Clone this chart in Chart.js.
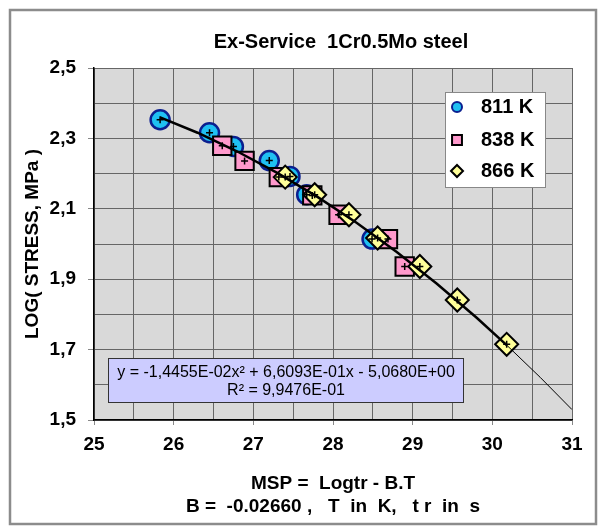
<!DOCTYPE html>
<html>
<head>
<meta charset="utf-8">
<script src="https://cdn.jsdelivr.net/npm/chart.js@4.4.1/dist/chart.umd.min.js"></script>
<style>
html, body { margin: 0; padding: 0; background: #fff; }
#wrap { width: 601px; height: 527px; }
</style>
</head>
<body>
<div id="wrap"><canvas id="creep-cvs" width="601" height="527"></canvas></div>
<script>
// creep data, MSP vs log(stress) for each test temperature
var msp811 = [25.83, 26.45, 26.75, 27.20, 27.46, 27.67, 28.49];
var log811 = [2.353, 2.316, 2.277, 2.237, 2.192, 2.140, 2.014];
var msp838 = [26.61, 26.89, 27.32, 27.74, 28.07, 28.69, 28.90];
var log838 = [2.279, 2.236, 2.190, 2.138, 2.083, 2.014, 1.936];
var msp866 = [27.40, 27.77, 28.20, 28.56, 29.09, 29.56, 30.18];
var log866 = [2.190, 2.140, 2.083, 2.017, 1.936, 1.841, 1.715];

var seriesNames = ["811 K", "838 K", "866 K"];
var xTickLabels = ["25", "26", "27", "28", "29", "30", "31"];
var yTickLabels = ["1,5", "1,7", "1,9", "2,1", "2,3", "2,5"];

// polynomial trendline, coefficients as printed in the equation box
var trendCoef = [-1.4455e-2, 6.6093e-1, -5.0680];
var trendSpanX = [25.83, 26.3, 26.8, 27.3, 27.8, 28.3, 28.8, 29.3, 29.8, 30.18];
var trendTailX = [30.18, 30.6, 31];
var trendText = ["y = -1,4455E-02x\u00B2 + 6,6093E-01x - 5,0680E+00", "R\u00B2 = 9,9476E-01"];

var chartTitle = "Ex-Service  1Cr0.5Mo steel";
var xTitle = ["MSP =  Logtr - B.T", "B =  -0.02660 ,   T  in  K,   t r  in  s"];
var yTitle = "LOG( STRESS, MPa )";

function pts(xs, ys) {
	let out = [];
	for (let i in xs) out.push({x: xs[i], y: ys[i]});
	return out;
}
function trendPts(xs) {
	return xs.map(x => ({x: x, y: trendCoef[0]*x*x + trendCoef[1]*x + trendCoef[2]}));
}

var styles = [
	{pointStyle: "circle", radius: 9.5, bg: "#1FC0F2", border: "#0B1F8F", bw: 2.5, lr: 5},
	{pointStyle: "rect", radius: 13, bg: "#FF99CC", border: "#000000", bw: 2, lr: 7},
	{pointStyle: "rectRot", radius: 11.5, bg: "#FFFF99", border: "#000000", bw: 2, lr: 6}
];

var frame = {
	id: "frame",
	beforeDraw(chart) {
		const ctx = chart.ctx, a = chart.chartArea;
		ctx.save();
		ctx.fillStyle = "#fff";
		ctx.fillRect(0, 0, chart.width, chart.height);
		ctx.strokeStyle = "#8c8c8c";
		ctx.lineWidth = 2.5;
		ctx.strokeRect(10, 10, 586, 514);
		ctx.fillStyle = "#d9d9d9";
		ctx.fillRect(a.left, a.top, a.right - a.left, a.bottom - a.top);
		ctx.fillStyle = "#000";
		ctx.font = "bold 20px Arial";
		ctx.textAlign = "center";
		ctx.textBaseline = "middle";
		ctx.fillText(chartTitle, 341, 42);
		ctx.restore();
	},
	afterDraw(chart) {
		const ctx = chart.ctx;
		ctx.save();
		// equation box
		ctx.fillStyle = "#CCCCFF";
		ctx.fillRect(108, 358, 355, 44);
		ctx.strokeStyle = "#333";
		ctx.lineWidth = 1;
		ctx.strokeRect(108.5, 358.5, 355, 44);
		ctx.fillStyle = "#000";
		ctx.font = "16px Arial";
		ctx.textAlign = "center";
		ctx.textBaseline = "middle";
		ctx.fillText(trendText[0], 286, 373);
		ctx.fillText(trendText[1], 286, 391);
		// legend
		ctx.fillStyle = "#fff";
		ctx.fillRect(445, 92, 100, 95);
		ctx.strokeStyle = "#888";
		ctx.strokeRect(445.5, 92.5, 100, 95);
		let ly = [107, 140, 171];
		for (let i = 0; i < 3; i++) {
			let s = styles[i];
			ctx.fillStyle = s.bg;
			ctx.strokeStyle = s.border;
			ctx.lineWidth = 2;
			Chart.helpers.drawPoint(ctx, {pointStyle: s.pointStyle, radius: s.lr, rotation: 0, borderWidth: 2}, 457, ly[i]);
			ctx.fillStyle = "#000";
			ctx.font = "bold 20px Arial";
			ctx.textAlign = "left";
			ctx.fillText(seriesNames[i], 481, ly[i]);
		}
		ctx.restore();
	}
};

var tickFont = {family: "Arial", size: 19, weight: "bold"};
var datasets = [];
var series = [pts(msp811, log811), pts(msp838, log838), pts(msp866, log866)];
for (let i = 0; i < 3; i++) {
	let s = styles[i];
	datasets.push({
		label: seriesNames[i],
		data: series[i],
		showLine: false,
		pointStyle: s.pointStyle,
		pointRadius: s.radius,
		pointBackgroundColor: s.bg,
		pointBorderColor: s.border,
		pointBorderWidth: s.bw,
		order: 4 - i
	});
}
datasets.push({
	data: trendPts(trendSpanX), showLine: true, borderColor: "#000", borderWidth: 2.5,
	pointRadius: 0, tension: 0, order: 1
});
datasets.push({
	data: trendPts(trendTailX), showLine: true, borderColor: "#000", borderWidth: 1,
	pointRadius: 0, tension: 0, order: 1
});
datasets.push({
	data: series[0].concat(series[1], series[2]), showLine: false, pointStyle: "cross",
	pointRadius: 3.5, pointBorderColor: "#000", pointBorderWidth: 1.5, order: 0
});

var config = {
	type: "scatter",
	data: {datasets: datasets},
	options: {
		responsive: false,
		animation: false,
		layout: {padding: {left: 0, right: 29, top: 68, bottom: 0}},
		plugins: {legend: false, tooltip: {enabled: false}},
		scales: {
			x: {
				type: "linear", min: 25, max: 31,
				afterFit(s) { s.height = 107; },
				ticks: {
					stepSize: 0.5, autoSkip: false, maxRotation: 0, padding: 8, color: "#000", font: tickFont,
					callback: v => Number.isInteger(v) ? xTickLabels[v - 25] : ""
				},
				grid: {
					color: "#666", lineWidth: 1, tickLength: 5,
					tickColor: c => Number.isInteger(c.tick.value) ? "#888" : "rgba(0,0,0,0)"
				},
				border: {color: "#000", width: 1.5},
				title: {display: true, text: xTitle, color: "#000",
					font: {family: "Arial", size: 19, weight: "bold", lineHeight: 1.25}, padding: {top: 0, bottom: 8}}
			},
			y: {
				type: "linear", min: 1.5, max: 2.5,
				afterFit(s) { s.width = 94; },
				ticks: {
					stepSize: 0.1, autoSkip: false, padding: 12, color: "#000", font: tickFont,
					callback: v => { let k = Math.round(v * 10); return k % 2 === 1 ? yTickLabels[(k - 15) / 2] : ""; }
				},
				grid: {
					color: "#666", lineWidth: 1, tickLength: 6,
					tickColor: c => Math.round(c.tick.value * 10) % 2 === 1 ? "#888" : "rgba(0,0,0,0)"
				},
				border: {color: "#000", width: 1.5},
				title: {display: true, text: yTitle, color: "#000",
					font: {family: "Arial", size: 19, weight: "bold"}, padding: {top: 21, bottom: 0}}
			}
		}
	},
	plugins: [frame]
};
var chart = new Chart("creep-cvs", config);
</script>
</body>
</html>
